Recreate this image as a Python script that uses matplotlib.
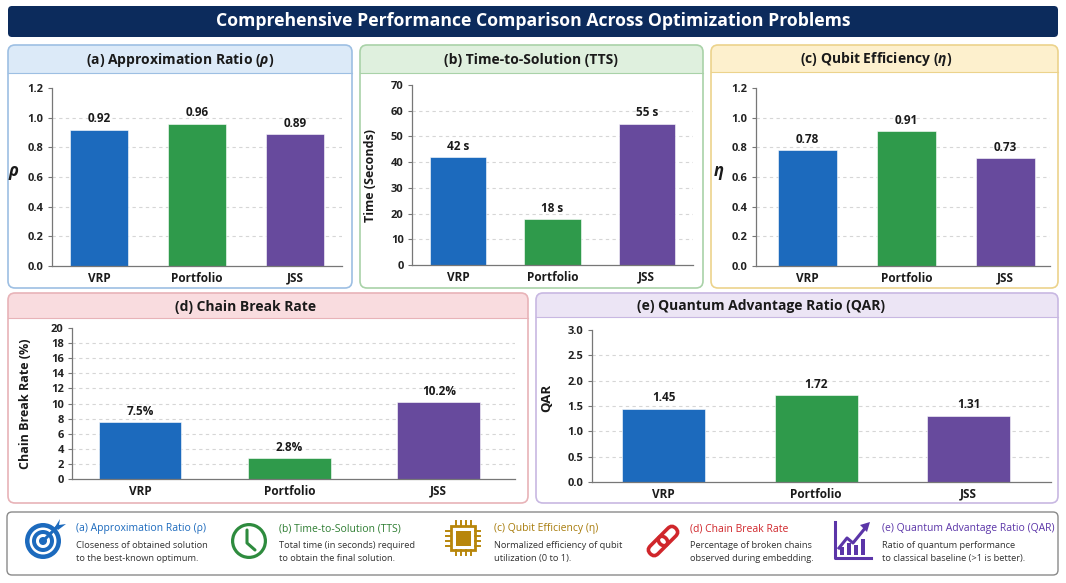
import numpy as np
import matplotlib.pyplot as plt
from matplotlib.patches import FancyBboxPatch, Rectangle, Circle, Wedge, Polygon
from matplotlib.transforms import Affine2D

plt.rcParams['font.family'] = ['Open Sans', 'Noto Sans', 'DejaVu Sans']
plt.rcParams['mathtext.fontset'] = 'custom'
plt.rcParams['mathtext.it'] = 'Open Sans:italic:bold'
plt.rcParams['mathtext.rm'] = 'Open Sans:bold'
plt.rcParams['mathtext.bf'] = 'Open Sans:bold'

W, H = 1066, 583

# data
categories = ['VRP', 'Portfolio', 'JSS']
approx_ratio = [0.92, 0.96, 0.89]
tts_seconds = [42, 18, 55]
qubit_eff = [0.78, 0.91, 0.73]
chain_break = [7.5, 2.8, 10.2]
qar = [1.45, 1.72, 1.31]

bar_colors = ['#1c6abd', '#2f9a4b', '#674a9d']

fig = plt.figure(figsize=(W / 100, H / 100), dpi=100)
bg = fig.add_axes([0, 0, 1, 1])
bg.set_xlim(0, W)
bg.set_ylim(H, 0)
bg.axis('off')


def rect(x0, y0, x1, y1):
    return [x0 / W, 1 - y1 / H, (x1 - x0) / W, (y1 - y0) / H]


def rbox(x, y, w, h, r, **kw):
    p = FancyBboxPatch((x, y), w, h, boxstyle='round,pad=0,rounding_size=%g' % r, **kw)
    bg.add_patch(p)
    return p


def panel(box, hy, face, edge, title, tx):
    x0, y0, x1, y1 = box
    rbox(x0, y0, x1 - x0, y1 - y0, 7, fc=face, ec='none')
    rbox(x0, hy, x1 - x0, y1 - hy, 7, fc='white', ec='none')
    bg.add_patch(Rectangle((x0, hy), x1 - x0, 12, fc='white', ec='none'))
    bg.plot([x0, x1], [hy, hy], color=edge, lw=0.8)
    rbox(x0, y0, x1 - x0, y1 - y0, 7, fc='none', ec=edge, lw=1.2)
    bg.text(tx, (y0 + hy) / 2 + 1, title, ha='center', va='center',
            fontsize=10, fontweight='bold', color='#1a1a1a')


# title bar
rbox(8, 6, 1050, 31, 4, fc='#0c2b5c', ec='none')
bg.text(533, 21.5, 'Comprehensive Performance Comparison Across Optimization Problems',
        ha='center', va='center', color='white', fontsize=12.7, fontweight='bold')

panel((8, 45, 352, 288), 73, '#dceaf8', '#9dbfe3', r'(a) Approximation Ratio ($\rho$)', 180)
panel((360, 45, 703, 288), 73, '#dff0de', '#a9d2a8', '(b) Time-to-Solution (TTS)', 531)
panel((711, 45, 1058, 288), 72, '#fdf0cd', '#ecd38c', r'(c) Qubit Efficiency ($\eta$)', 876)
panel((8, 293, 528, 503), 318, '#f9dcdf', '#e8b3b8', '(d) Chain Break Rate', 246)
panel((536, 293, 1058, 503), 317, '#ece5f5', '#c8b8e2', '(e) Quantum Advantage Ratio (QAR)', 761)


def bar_chart(r, values, ylim, yticks, tick_fmt, label_fmt, ylabel, lab_xy,
              xlim, width, ylabel_rot=90, ylabel_size=9):
    ax = fig.add_axes(rect(*r))
    ax.patch.set_alpha(0)
    x = np.arange(len(categories))
    for t in yticks[1:-1]:
        ax.axhline(t, color='#d6d6d6', lw=0.8, ls=(0, (3, 3)), zorder=0)
    bars = ax.bar(x, values, width=width, color=bar_colors, edgecolor='white',
                  linewidth=0.4, zorder=2)
    for b, v in zip(bars, values):
        ax.annotate(label_fmt(v), (b.get_x() + b.get_width() / 2, v),
                    xytext=(0, 3), textcoords='offset points', ha='center', va='bottom',
                    fontsize=8.5, fontweight='bold', color='#1a1a1a')
    ax.set_xlim(*xlim)
    ax.set_ylim(*ylim)
    ax.set_xticks(x)
    ax.set_xticklabels(categories, fontsize=8.5, fontweight='bold', color='#1a1a1a')
    ax.set_yticks(yticks)
    ax.set_yticklabels([tick_fmt(t) for t in yticks], fontsize=8, fontweight='bold',
                       color='#222222')
    ax.tick_params(axis='x', length=0, pad=4)
    ax.tick_params(axis='y', length=3, color='#777777', pad=3)
    for s in ['top', 'right']:
        ax.spines[s].set_visible(False)
    for s in ['left', 'bottom']:
        ax.spines[s].set_color('#777777')
        ax.spines[s].set_linewidth(0.9)
    ax.set_ylabel(ylabel, fontsize=ylabel_size, fontweight='bold', color='#1a1a1a',
                  rotation=ylabel_rot, va='center', ha='center')
    ax.yaxis.set_label_coords(*lab_xy)
    return ax


bar_chart((52, 88, 342, 266), approx_ratio, (0, 1.2), [0, 0.2, 0.4, 0.6, 0.8, 1.0, 1.2],
          lambda t: '%.1f' % t, lambda v: '%.2f' % v, r'$\rho$', (-0.131, 0.52),
          (-0.48, 2.48), 0.6, ylabel_rot=0, ylabel_size=12)
bar_chart((412, 85, 693, 265), tts_seconds, (0, 70), list(range(0, 71, 10)),
          lambda t: '%d' % t, lambda v: '%d s' % v, 'Time (Seconds)', (-0.149, 0.5),
          (-0.49, 2.49), 0.6)
bar_chart((756, 88, 1050, 266), qubit_eff, (0, 1.2), [0, 0.2, 0.4, 0.6, 0.8, 1.0, 1.2],
          lambda t: '%.1f' % t, lambda v: '%.2f' % v, r'$\eta$', (-0.126, 0.52),
          (-0.52, 2.45), 0.6, ylabel_rot=0, ylabel_size=12)
bar_chart((72, 328, 515, 479), chain_break, (0, 20), list(range(0, 21, 2)),
          lambda t: '%d' % t, lambda v: '%.1f%%' % v, 'Chain Break Rate (%)', (-0.104, 0.5),
          (-0.455, 2.51), 0.555)
bar_chart((592, 330, 1051, 482), qar, (0, 3.0), [0, 0.5, 1.0, 1.5, 2.0, 2.5, 3.0],
          lambda t: '%.1f' % t, lambda v: '%.2f' % v, 'QAR', (-0.098, 0.55),
          (-0.47, 2.54), 0.545, ylabel_size=9.5)

# legend strip
rbox(7, 512, 1051, 63, 5, fc='white', ec='#8a8a8a', lw=1.0)

legend_items = [
    (76, '#1c6abd', '(a) Approximation Ratio (ρ)',
     ['Closeness of obtained solution', 'to the best-known optimum.']),
    (279, '#2e7d32', '(b) Time-to-Solution (TTS)',
     ['Total time (in seconds) required', 'to obtain the final solution.']),
    (494, '#a87c0c', '(c) Qubit Efficiency (η)',
     ['Normalized efficiency of qubit', 'utilization (0 to 1).']),
    (690, '#d0262b', '(d) Chain Break Rate',
     ['Percentage of broken chains', 'observed during embedding.']),
    (882, '#5b35a8', '(e) Quantum Advantage Ratio (QAR)',
     ['Ratio of quantum performance', 'to classical baseline (>1 is better).']),
]
for lx, col, ttl, desc in legend_items:
    bg.text(lx, 529, ttl, color=col, fontsize=7.5, va='center', ha='left')
    for i, line in enumerate(desc):
        bg.text(lx, 545 + i * 13.5, line, color='#333333', fontsize=6.7, va='center', ha='left')

# icon (a): target
c_a = '#1c6abd'
cx, cy = 43, 541
bg.add_patch(Wedge((cx, cy), 18, 0, 360, width=4.5, fc=c_a, ec='none'))
bg.add_patch(Wedge((cx, cy), 11, 0, 360, width=4, fc=c_a, ec='none'))
bg.add_patch(Circle((cx, cy), 4, fc=c_a, ec='none'))
bg.plot([cx, cx + 15], [cy, cy - 15], color=c_a, lw=2.2, solid_capstyle='round')
bg.add_patch(Polygon([[cx + 12, cy - 14], [cx + 17, cy - 22], [cx + 16, cy - 16],
                      [cx + 23, cy - 17], [cx + 15, cy - 11]], fc=c_a, ec='none'))

# icon (b): clock
c_b = '#2e8b3e'
cx, cy = 249, 541
bg.add_patch(Wedge((cx, cy), 18, 0, 360, width=3.2, fc=c_b, ec='none'))
bg.plot([cx - 2, cx - 2, cx + 6], [cy - 11, cy + 2, cy + 9], color=c_b, lw=2.2,
        solid_capstyle='round', solid_joinstyle='round')

# icon (c): chip
c_c = '#b8860b'
cx, cy = 463, 538
bg.add_patch(Rectangle((cx - 12, cy - 12), 24, 24, fc='white', ec=c_c, lw=2))
bg.add_patch(Rectangle((cx - 7.5, cy - 7.5), 15, 15, fc=c_c, ec='none'))
for k in [-7.5, -2.5, 2.5, 7.5]:
    bg.plot([cx + k, cx + k], [cy - 12, cy - 17], color=c_c, lw=1.4)
    bg.plot([cx + k, cx + k], [cy + 12, cy + 17], color=c_c, lw=1.4)
    bg.plot([cx - 12, cx - 17], [cy + k, cy + k], color=c_c, lw=1.4)
    bg.plot([cx + 12, cx + 17], [cy + k, cy + k], color=c_c, lw=1.4)

# icon (d): chain link
c_d = '#d0262b'
cx, cy = 663, 541
for dx in (-7, 7):
    lk = FancyBboxPatch((cx + dx - 11, cy - 5.5), 22, 11,
                        boxstyle='round,pad=0,rounding_size=5.5',
                        fc='none', ec=c_d, lw=2.6)
    lk.set_transform(Affine2D().rotate_deg_around(cx, cy, -45) + bg.transData)
    bg.add_patch(lk)

# icon (e): rising chart
c_e = '#5b35a8'
bg.plot([835, 835, 871], [522, 558, 558], color=c_e, lw=2.2)
for bx, bh in zip([842, 849, 856, 863], [8, 12, 10, 16]):
    bg.add_patch(Rectangle((bx - 2.2, 555 - bh), 4.4, bh, fc=c_e, ec='none'))
bg.plot([839, 847, 853, 866], [548, 538, 543, 527], color=c_e, lw=2.2,
        solid_joinstyle='round')
bg.add_patch(Polygon([[870, 522], [860, 525], [867, 532]], fc=c_e, ec='none'))

fig.savefig('out.png', dpi=100)
